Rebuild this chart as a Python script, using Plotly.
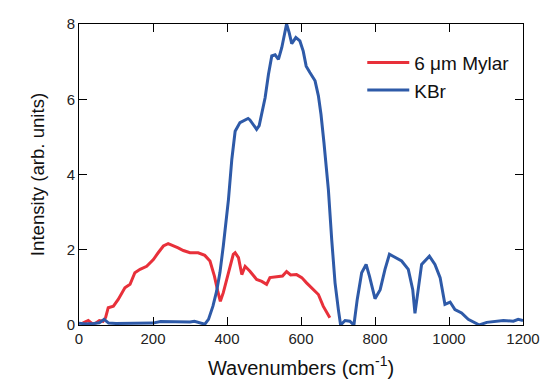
import plotly.graph_objects as go

kbr_x = [0,20,40,55,68,80,100,150,200,220,250,300,312,325,340,350,362,372,381,390,
         404,413,422,435,444,457,462,472,480,487,494,503,512,521,530,539,548,557,561,568,
         575,586,597,606,614,624,638,647,654,662,674,683,692,701,707,719,732,743,752,764,
         776,785,800,814,827,839,854,872,890,902,908,917,926,947,962,976,989,1003,1016,1034,
         1052,1082,1102,1147,1174,1187,1200]
kbr_y = [0.05,0.03,0.04,0.06,0.15,0.05,0.04,0.05,0.05,0.09,0.08,0.08,0.1,0.06,0.02,0.15,0.5,0.9,1.4,2.1,
         3.34,4.4,5.15,5.38,5.42,5.49,5.45,5.3,5.2,5.3,5.65,6.04,6.66,7.15,7.18,7.06,7.37,7.86,8.0,7.77,
         7.48,7.64,7.55,7.28,6.88,6.71,6.49,6.09,5.6,4.85,3.6,2.27,1.12,0.41,0.0,0.12,0.1,0.0,0.68,1.39,
         1.61,1.3,0.7,0.94,1.48,1.88,1.79,1.7,1.48,0.94,0.31,1.03,1.61,1.83,1.61,1.26,0.55,0.61,0.41,0.32,
         0.15,0.0,0.07,0.12,0.1,0.15,0.12]

mylar_x = [10,25,35,45,55,65,72,79,93,106,124,138,151,165,183,201,214,228,241,255,
           268,282,300,322,340,354,366,375,382,390,404,417,422,431,440,449,462,480,494,507,
           516,539,550,561,572,588,602,615,633,647,660,678]
mylar_y = [0.05,0.12,0.04,0.05,0.12,0.1,0.2,0.46,0.5,0.68,0.99,1.08,1.39,1.48,1.56,1.74,1.92,2.1,2.16,2.11,
           2.05,1.98,1.92,1.92,1.85,1.7,1.3,0.9,0.63,0.86,1.39,1.88,1.92,1.79,1.34,1.56,1.43,1.21,1.16,1.08,
           1.26,1.28,1.3,1.42,1.33,1.34,1.26,1.12,0.94,0.81,0.5,0.19]

x_ticks = [0, 200, 400, 600, 800, 1000, 1200]
y_ticks = [0, 2, 4, 6, 8]

fig = go.Figure()
fig.add_trace(go.Scatter(x=mylar_x, y=mylar_y, mode="lines", name="6 \u03bcm Mylar",
                         line=dict(color="#e8303a", width=3)))
fig.add_trace(go.Scatter(x=kbr_x, y=kbr_y, mode="lines", name="KBr",
                         line=dict(color="#2e5aa8", width=3)))

axis_common = dict(showline=True, linecolor="black", linewidth=1, mirror="ticks",
                   ticks="inside", ticklen=8, tickcolor="black", showgrid=False,
                   zeroline=False, tickfont=dict(size=15, color="#222"))

fig.update_xaxes(range=[0, 1200], tickvals=x_ticks,
                 title=dict(text="Wavenumbers (cm<sup>-1</sup>)", font=dict(size=20, color="#111"), standoff=14),
                 **axis_common)
fig.update_yaxes(range=[0, 8], tickvals=y_ticks,
                 title=dict(text="Intensity (arb. units)", font=dict(size=18.6, color="#111"), standoff=17),
                 **axis_common)

fig.update_layout(
    width=535, height=372,
    margin=dict(l=71, r=20, t=16, b=54.5, autoexpand=False),
    paper_bgcolor="white", plot_bgcolor="white",
    font=dict(family="Liberation Sans, Arial, sans-serif"),
    legend=dict(x=0.638, y=0.935, xanchor="left", yanchor="top",
                font=dict(size=19, color="#111"), bgcolor="rgba(0,0,0,0)",
                itemwidth=42, tracegroupgap=0),
)

fig.write_html("out.html")
